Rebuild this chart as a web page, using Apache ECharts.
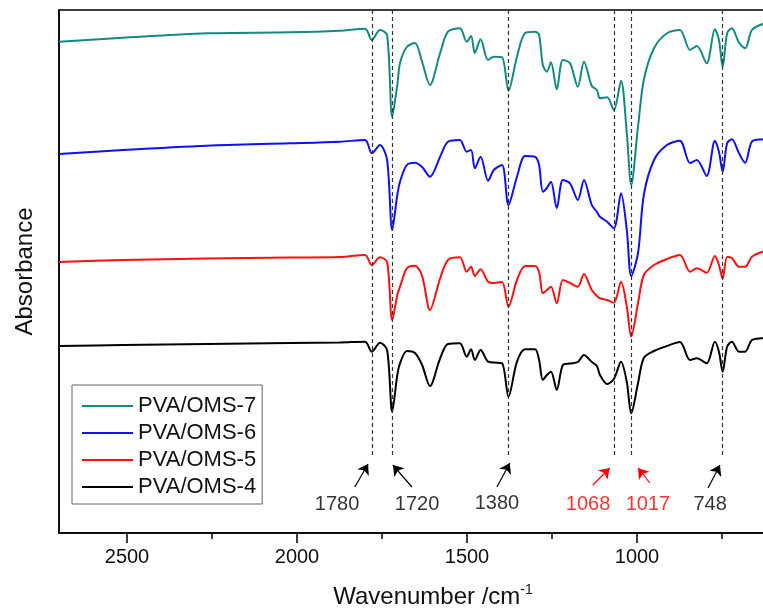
<!DOCTYPE html>
<html>
<head>
<meta charset="utf-8">
<script src="https://cdn.jsdelivr.net/npm/echarts@6/dist/echarts.min.js"></script>
<style>html,body{margin:0;padding:0;background:#fff}#c{width:763px;height:611px}</style>
</head>
<body>
<div id="c"></div>
<script>
// Wavenumber grid (cm^-1)
const wavenumber = [2700,2512,2265,2021,1874,1800,1780,1756,1735,1720,1705,1697,1677,1653,1632,1609,1579,1556,1521,1501,1488,1477,1460,1438,1421,1397,1378,1353,1329,1300,1288,1277,1265,1253,1236,1218,1197,1174,1156,1133,1118,1109,1088,1068,1047,1030,1017,997,980,950,912,874,844,824,795,771,759,748,735,721,700,682,662,630,600];
// Absorbance (offset, a.u.)
const oms7 = [4.913,4.953,4.997,5.007,5.023,5.043,4.93,5.03,4.98,4.163,4.48,4.70,4.86,4.90,4.71,4.48,4.80,5.013,5.047,4.913,4.97,4.80,4.937,4.73,4.763,4.757,4.423,4.763,5.00,5.013,4.98,4.68,4.613,4.707,4.437,4.73,4.697,4.463,4.713,4.47,4.43,4.347,4.357,4.23,4.523,4.00,3.48,4.063,4.53,4.847,4.997,5.03,4.83,4.87,4.697,5.037,4.93,4.663,4.997,5.047,4.903,4.847,5.03,5.09,5.11];
const oms6 = [3.79,3.83,3.873,3.897,3.913,3.93,3.797,3.88,3.73,3.03,3.38,3.513,3.68,3.703,3.66,3.563,3.763,3.913,3.93,3.813,3.83,3.647,3.763,3.523,3.63,3.68,3.28,3.563,3.77,3.763,3.68,3.413,3.45,3.513,3.247,3.53,3.497,3.33,3.53,3.28,3.21,3.163,3.113,3.047,3.397,3.03,2.57,2.80,3.38,3.73,3.88,3.923,3.70,3.73,3.57,3.923,3.813,3.613,3.897,3.937,3.797,3.703,3.913,3.937,3.95];
const oms5 = [2.71,2.73,2.745,2.755,2.76,2.78,2.68,2.757,2.71,2.13,2.38,2.463,2.647,2.673,2.57,2.23,2.547,2.73,2.757,2.613,2.663,2.57,2.637,2.513,2.50,2.51,2.263,2.53,2.67,2.67,2.61,2.397,2.43,2.463,2.297,2.53,2.50,2.463,2.59,2.43,2.37,2.347,2.33,2.303,2.513,2.263,1.963,2.297,2.58,2.68,2.74,2.78,2.613,2.647,2.603,2.77,2.68,2.547,2.76,2.75,2.663,2.663,2.763,2.813,2.83];
const oms4 = [1.87,1.88,1.89,1.90,1.905,1.913,1.813,1.903,1.83,1.213,1.58,1.697,1.82,1.80,1.68,1.47,1.747,1.89,1.897,1.763,1.837,1.73,1.83,1.713,1.705,1.697,1.363,1.713,1.837,1.837,1.73,1.53,1.58,1.613,1.43,1.68,1.695,1.71,1.78,1.71,1.67,1.58,1.49,1.54,1.713,1.51,1.197,1.497,1.75,1.82,1.87,1.91,1.73,1.747,1.697,1.913,1.813,1.613,1.863,1.913,1.813,1.813,1.93,1.95,1.97];
const seriesNames = ['PVA/OMS-7','PVA/OMS-6','PVA/OMS-5','PVA/OMS-4'];
const peakWn = [1780,1720,1380,1068,1017,748];
const peakLabels = ['1780','1720','1380','1068','1017','748'];
const xTickValues = [2500,2000,1500,1000];
const xMinorTickValues = [2250,1750,1250,750];

// layout of annotations (data units): arrow tail, arrow tip, label position
const annotLayout = [
  {tail:[1830,0.46], tip:[1791,0.69], label:[1882,0.29], color:'#000'},
  {tail:[1662,0.46], tip:[1718,0.68], label:[1647,0.29], color:'#000'},
  {tail:[1412,0.46], tip:[1374,0.70], label:[1412,0.30], color:'#000'},
  {tail:[1130,0.48], tip:[1080,0.65], label:[1144,0.29], color:'#ff0000'},
  {tail:[962,0.50],  tip:[997,0.65],  label:[968,0.29],  color:'#ff0000'},
  {tail:[791,0.45],  tip:[756,0.68],  label:[785,0.29],  color:'#000'}
];
const colors = ['#118a80','#1010f5','#ff1010','#000000'];
const font = 'Liberation Sans, Arial, sans-serif';

const chart = echarts.init(document.getElementById('c'), null, {renderer:'canvas'});
const lineData = [oms7, oms6, oms5, oms4].map(arr => wavenumber.map((w,i)=>[w, arr[i]]));

const series = seriesNames.map((n,k)=>({
  name:n, type:'line', data:lineData[k], symbol:'none', showSymbol:false,
  smooth:0.3, lineStyle:{color:colors[k], width:2}, itemStyle:{color:colors[k]}, z:3
}));

series.push({
  name:'guides', type:'line', data:[], symbol:'none', silent:true,
  markLine:{
    silent:true, symbol:['none','none'], animation:false,
    label:{show:false},
    lineStyle:{color:'#333', type:[4,3], width:1.2},
    data: peakWn.map(w=>[{coord:[w,5.23]},{coord:[w,0.75]}])
  }
});
series.push({
  name:'arrows', type:'line', data:[], symbol:'none', silent:true,
  markLine:{
    silent:true, symbol:['none','arrow'], symbolSize:10, animation:false,
    label:{show:false},
    data: annotLayout.map(a=>[{coord:a.tail, lineStyle:{color:a.color, width:1.2, type:'solid'}, itemStyle:{color:a.color}},{coord:a.tip}])
  }
});
series.push({
  name:'labels', type:'scatter', symbolSize:0, silent:true,
  data: annotLayout.map((a,i)=>({value:a.label, name:peakLabels[i], label:{color:a.color}})),
  label:{show:true, position:'inside', formatter:p=>p.name, fontSize:20, fontFamily:font}
});

chart.setOption({
  animation:false,
  backgroundColor:'#fff',
  grid:{left:59, width:748, top:10, height:523, outerBoundsMode:'none', containLabel:false,
        show:true, borderColor:'#000', borderWidth:1.5},
  legend:{
    data:seriesNames.map(n=>({name:n, icon:'rect'})), orient:'vertical', left:72, top:385,
    itemWidth:51, itemHeight:2, itemGap:5,
    padding:[10,6,6,10],
    borderColor:'#666', borderWidth:1, backgroundColor:'#fff',
    textStyle:{fontSize:22, fontFamily:font, color:'#111', lineHeight:22}
  },
  xAxis:[{
    type:'value', inverse:true, min:500, max:2700, position:'bottom',
    axisLine:{lineStyle:{color:'#000', width:1.5}},
    axisTick:{show:true, length:10, inside:false, customValues:xTickValues, lineStyle:{color:'#000', width:1.5}},
    splitLine:{show:false},
    axisLabel:{fontSize:20, fontFamily:font, color:'#111', margin:14, customValues:xTickValues,
      formatter:v=>String(v)},
    name:'Wavenumber /cm{sup|-1}', nameLocation:'middle', nameGap:50,
    nameTextStyle:{fontSize:24, fontFamily:font, color:'#111',
      rich:{sup:{fontSize:14, fontFamily:font, color:'#111', padding:[0,0,14,0]}}}
  },{
    type:'value', inverse:true, min:500, max:2700, position:'bottom', offset:0,
    axisLine:{show:false},
    axisTick:{show:true, length:6, inside:false, customValues:xMinorTickValues, lineStyle:{color:'#000', width:1.5}},
    axisLabel:{show:false}, splitLine:{show:false}
  }],
  yAxis:{
    type:'value', min:0, max:5.23,
    axisLine:{show:true, lineStyle:{color:'#000', width:1.5}},
    axisTick:{show:false}, axisLabel:{show:false}, splitLine:{show:false},
    name:'Absorbance', nameLocation:'middle', nameGap:22,
    nameTextStyle:{fontSize:24, fontFamily:font, color:'#111'}
  },
  series:series
});
</script>
</body>
</html>
